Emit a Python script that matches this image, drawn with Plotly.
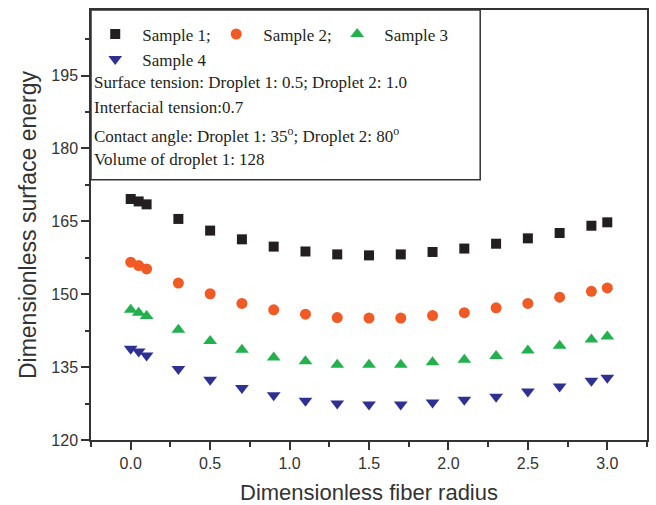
import plotly.graph_objects as go

radius = [0.0, 0.05, 0.1, 0.3, 0.5, 0.7, 0.9, 1.1, 1.3, 1.5, 1.7, 1.9, 2.1, 2.3, 2.5, 2.7, 2.9, 3.0]
sample1 = [169.6, 169.1, 168.5, 165.5, 163.1, 161.3, 159.8, 158.8, 158.2, 158.0, 158.2, 158.7, 159.4, 160.4, 161.5, 162.6, 164.1, 164.8]
sample2 = [156.6, 155.9, 155.2, 152.3, 150.1, 148.1, 146.8, 145.9, 145.2, 145.1, 145.1, 145.6, 146.2, 147.2, 148.1, 149.4, 150.6, 151.3]
sample3 = [146.8, 146.2, 145.5, 142.7, 140.4, 138.6, 137.0, 136.2, 135.5, 135.5, 135.5, 136.0, 136.5, 137.3, 138.4, 139.4, 140.7, 141.3]
sample4 = [138.8, 138.2, 137.4, 134.6, 132.4, 130.7, 129.2, 128.1, 127.5, 127.3, 127.3, 127.7, 128.3, 128.9, 130.0, 131.0, 132.2, 132.8]

names = ["Sample 1;", "Sample 2;", "Sample 3", "Sample 4"]
info_lines = [
    "Surface tension: Droplet 1: 0.5; Droplet 2: 1.0",
    "Interfacial tension:0.7",
    "Contact angle: Droplet 1: 35<sup>o</sup>; Droplet 2: 80<sup>o</sup>",
    "Volume of droplet 1: 128",
]
x_ticks = [0.0, 0.5, 1.0, 1.5, 2.0, 2.5, 3.0]
y_ticks = [120, 135, 150, 165, 180, 195]

series = [sample1, sample2, sample3, sample4]
symbols = ["square", "circle", "triangle-up", "triangle-down"]
colors = ["#231f20", "#f15a24", "#22b14c", "#2e3192"]
sizes = [10, 11, 12, 12]
legend_ids = ["legend", "legend2", "legend3", "legend4"]
legend_pos = [(-0.005, 0.985), (0.2126, 0.985), (0.4302, 0.985), (-0.005, 0.927)]

fig = go.Figure()
for ys, nm, sym, col, sz, lg in zip(series, names, symbols, colors, sizes, legend_ids):
    fig.add_trace(go.Scatter(
        x=radius, y=ys, mode="markers", name=nm, legend=lg,
        marker=dict(symbol=sym, color=col, size=sz, line=dict(width=0)),
    ))

serif = "Liberation Serif, Times New Roman, serif"
sans = "Liberation Sans, Arial, sans-serif"

legend_layout = {}
for lg, (lx, ly) in zip(legend_ids, legend_pos):
    legend_layout[lg] = dict(
        orientation="h", x=lx, y=ly, xanchor="left", yanchor="top",
        bgcolor="rgba(0,0,0,0)", font=dict(family=serif, size=17, color="#231f20"),
        itemwidth=44, itemclick=False, itemdoubleclick=False,
    )

fig.update_layout(
    width=656, height=505,
    margin=dict(l=91, r=9, t=10, b=65),
    paper_bgcolor="white", plot_bgcolor="white",
    showlegend=True,
    **legend_layout,
    xaxis=dict(
        range=[-0.25, 3.25], tickvals=x_ticks, ticktext=[f"{v:.1f}" for v in x_ticks],
        ticks="outside", ticklen=8, tickwidth=1.5, tickcolor="#333",
        minor=dict(dtick=0.25, tick0=0, ticks="outside", ticklen=5, tickwidth=1.5, tickcolor="#333"),
        showline=True, linecolor="#333", linewidth=1.5, mirror=True,
        showgrid=False, zeroline=False, automargin=False,
        tickfont=dict(family=sans, size=16, color="#333"),
        title=dict(text="Dimensionless fiber radius", font=dict(family=sans, size=22, color="#333"), standoff=15),
    ),
    yaxis=dict(
        range=[120, 208.5], tickvals=y_ticks,
        ticks="outside", ticklen=8, tickwidth=1.5, tickcolor="#333",
        minor=dict(dtick=7.5, tick0=120, ticks="outside", ticklen=4, tickwidth=1.5, tickcolor="#333"),
        showline=True, linecolor="#333", linewidth=1.5, mirror=True,
        showgrid=False, zeroline=False, automargin=False,
        tickfont=dict(family=sans, size=16, color="#333"),
        title=dict(text="Dimensionless surface energy", font=dict(family=sans, size=23, color="#333"), standoff=8),
    ),
)

fig.add_shape(type="rect", xref="paper", yref="paper", x0=0, x1=0.70, y0=0.605, y1=1.0,
              line=dict(color="#333", width=1.5), fillcolor="rgba(0,0,0,0)", layer="above")

line_y_px = [82, 107, 135, 159]
for txt, py in zip(info_lines, line_y_px):
    fig.add_annotation(
        text=txt, xref="paper", yref="paper", x=0.001, y=(440 - py) / 430,
        xanchor="left", yanchor="middle", showarrow=False,
        font=dict(family=serif, size=17, color="#231f20"),
    )

fig.write_html("out.html", config={"displayModeBar": False},
               post_script="document.body.style.margin='0';")
